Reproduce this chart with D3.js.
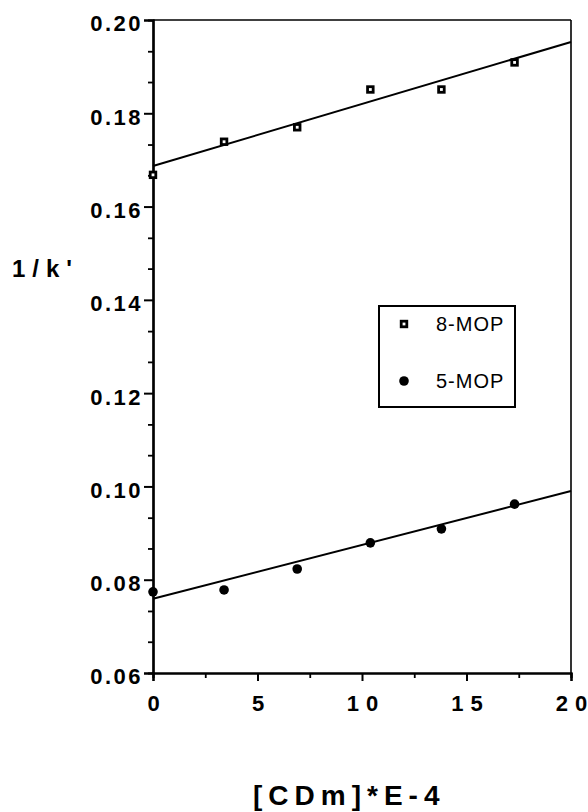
<!DOCTYPE html>
<html>
<head>
<meta charset="utf-8">
<script src="https://cdn.jsdelivr.net/npm/d3@7"></script>
<style>
  html, body { margin: 0; padding: 0; background: #fff; }
  svg { display: block; }
  text { font-family: "Liberation Sans", Arial, Helvetica, sans-serif; fill: #000; }
</style>
</head>
<body>
<svg id="chart" width="588" height="812"></svg>
<script>
// ---- data ----
const xValues = [0, 3.4, 6.9, 10.4, 13.8, 17.3];
const mop8 = [0.1668, 0.1739, 0.1770, 0.1851, 0.1851, 0.1909];
const mop5 = [0.0774, 0.0778, 0.0823, 0.0879, 0.0909, 0.0962];
const fitX = [0, 20];
const fit8 = [0.1687, 0.1953];
const fit5 = [0.0759, 0.0990];
const xTicks = [0, 5, 10, 15, 20];
const xTickLabels = ["0", "5", "10", "15", "20"];
const xMinorTicks = [2.5, 7.5, 12.5, 17.5];
const yTicks = [0.06, 0.08, 0.10, 0.12, 0.14, 0.16, 0.18, 0.20];
const yTickLabels = ["0.06", "0.08", "0.10", "0.12", "0.14", "0.16", "0.18", "0.20"];
const yMinorTicks = [0.0667, 0.0733, 0.0867, 0.0933, 0.1067, 0.1133, 0.1267, 0.1333,
                     0.1467, 0.1533, 0.1667, 0.1733, 0.1867, 0.1933];
const seriesNames = ["8-MOP", "5-MOP"];
const xTitle = "[CDm]*E-4";
const yTitle = "1/k'";

// ---- layout ----
const pLeft = 153, pRight = 571, pTop = 20, pBottom = 673;
const svg = d3.select("#chart");
const x = d3.scaleLinear().domain([0, 20]).range([pLeft, pRight]);
const y = d3.scaleLinear().domain([0.06, 0.20]).range([pBottom, pTop]);

// frame: top and right thinner
svg.append("line").attr("x1", pLeft).attr("x2", pRight).attr("y1", pTop).attr("y2", pTop)
  .attr("stroke", "#000").attr("stroke-width", 1.6);
svg.append("line").attr("x1", pRight).attr("x2", pRight).attr("y1", pTop).attr("y2", pBottom)
  .attr("stroke", "#000").attr("stroke-width", 1.6);

// y axis
const yAxis = svg.append("g").attr("transform", `translate(${pLeft},0)`);
yAxis.call(d3.axisLeft(y).tickValues(yMinorTicks).tickSize(5).tickFormat(""));
yAxis.selectAll(".tick line").attr("stroke-width", 1.8);
const yMajor = svg.append("g").attr("transform", `translate(${pLeft},0)`)
  .call(d3.axisLeft(y).tickValues(yTicks).tickSize(9).tickFormat((d, i) => yTickLabels[i]));
yMajor.selectAll(".tick line").attr("stroke-width", 2);
yMajor.selectAll(".tick text")
  .attr("x", -10).attr("dy", "0.36em").attr("y", 3)
  .style("font-size", "22px").style("font-weight", "bold").style("letter-spacing", "2.5px")
  .attr("fill", "#000");

// x axis
const xAxis = svg.append("g").attr("transform", `translate(0,${pBottom})`);
xAxis.call(d3.axisBottom(x).tickValues(xMinorTicks).tickSize(5).tickFormat(""));
xAxis.selectAll(".tick line").attr("stroke-width", 1.8);
const xMajor = svg.append("g").attr("transform", `translate(0,${pBottom})`)
  .call(d3.axisBottom(x).tickValues(xTicks).tickSize(8).tickFormat((d, i) => xTickLabels[i]));
xMajor.selectAll(".tick line").attr("stroke-width", 2);
xMajor.selectAll(".tick text")
  .attr("y", 22).attr("dy", "0.71em")
  .style("font-size", "22px").style("font-weight", "bold")
  .attr("fill", "#000")
  .each(function(d, i) {
    const label = xTickLabels[xTicks.indexOf(d)];
    const t = d3.select(this);
    t.text(null);
    label.split("").forEach((ch, k) => {
      t.append("tspan").attr("dx", k === 0 ? 0 : 7).text(ch);
    });
  });
svg.selectAll(".domain").attr("stroke-width", 2.2);

// fit lines
const line = d3.line().x(d => x(d[0])).y(d => y(d[1]));
svg.append("path").datum(fitX.map((v, i) => [v, fit8[i]]))
  .attr("d", line).attr("fill", "none").attr("stroke", "#000").attr("stroke-width", 2);
svg.append("path").datum(fitX.map((v, i) => [v, fit5[i]]))
  .attr("d", line).attr("fill", "none").attr("stroke", "#000").attr("stroke-width", 2);

// markers
svg.append("g").selectAll("rect").data(xValues.map((v, i) => [v, mop8[i]])).join("rect")
  .attr("x", d => x(d[0]) - 2.8).attr("y", d => y(d[1]) - 2.8)
  .attr("width", 5.6).attr("height", 5.6)
  .attr("fill", "#fff").attr("stroke", "#000").attr("stroke-width", 2.8);
svg.append("g").selectAll("circle").data(xValues.map((v, i) => [v, mop5[i]])).join("circle")
  .attr("cx", d => x(d[0])).attr("cy", d => y(d[1])).attr("r", 4.8).attr("fill", "#000");

// legend
const lg = svg.append("g");
lg.append("rect").attr("x", 379).attr("y", 306).attr("width", 136).attr("height", 101)
  .attr("fill", "#fff").attr("stroke", "#000").attr("stroke-width", 2);
lg.append("rect").attr("x", 404 - 2.8).attr("y", 324 - 2.8).attr("width", 5.6).attr("height", 5.6)
  .attr("fill", "#fff").attr("stroke", "#000").attr("stroke-width", 2.8);
lg.append("circle").attr("cx", 404).attr("cy", 381).attr("r", 4.8).attr("fill", "#000");
lg.append("text").attr("x", 436).attr("y", 331).text(seriesNames[0])
  .style("font-size", "20px").style("letter-spacing", "1px");
lg.append("text").attr("x", 436).attr("y", 388).text(seriesNames[1])
  .style("font-size", "20px").style("letter-spacing", "1px");

// axis titles
svg.append("text").attr("x", 12).attr("y", 277).text(yTitle)
  .style("font-size", "24px").style("font-weight", "bold").style("letter-spacing", "7px");
svg.append("text").attr("x", 253).attr("y", 805).text(xTitle)
  .style("font-size", "28px").style("font-weight", "bold").style("letter-spacing", "6px");
</script>
</body>
</html>
